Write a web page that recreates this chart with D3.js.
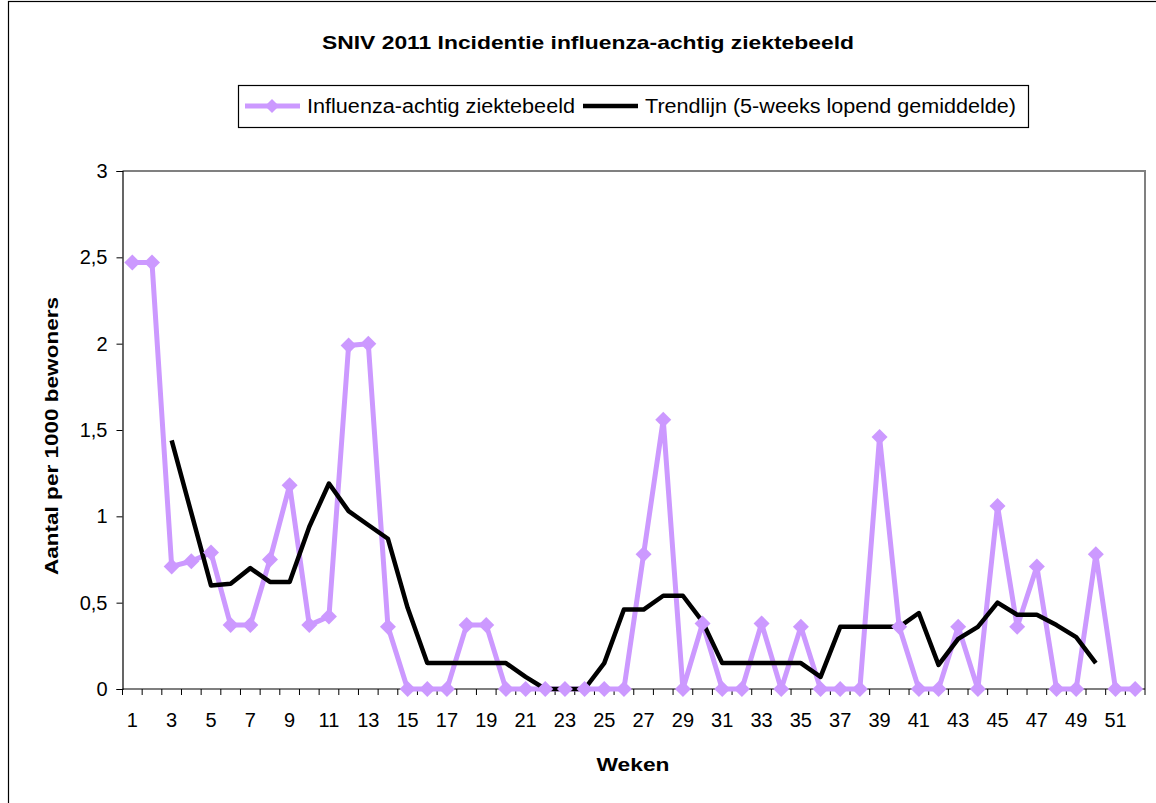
<!DOCTYPE html>
<html>
<head>
<meta charset="utf-8">
<script src="https://cdn.jsdelivr.net/npm/d3@7"></script>
<style>
  html, body { margin: 0; padding: 0; background: #fff; }
  svg { display: block; }
  text { font-family: "Liberation Sans", Arial, sans-serif; fill: #000; }
</style>
</head>
<body>
<svg id="chart" width="1156" height="803"></svg>
<script>
// ---- Data ----
const weeks = d3.range(1, 53);
const influenza = [2.47, 2.47, 0.71, 0.74, 0.79, 0.37, 0.37, 0.75, 1.18, 0.37,
                   0.42, 1.99, 2.0, 0.36, 0, 0, 0, 0.37, 0.37, 0,
                   0, 0, 0, 0, 0, 0, 0.78, 1.56, 0, 0.38,
                   0, 0, 0.38, 0, 0.36, 0, 0, 0, 1.46, 0.36,
                   0, 0, 0.36, 0, 1.06, 0.36, 0.71, 0, 0, 0.78,
                   0, 0];
// trend line (5-week moving average), weeks 3..50
const trendWeeks = d3.range(3, 51);
const trend = [1.44, 1.02, 0.60, 0.61, 0.70, 0.62, 0.62, 0.94, 1.19, 1.03,
               0.95, 0.87, 0.47, 0.15, 0.15, 0.15, 0.15, 0.15, 0.07, 0,
               0, 0, 0.15, 0.46, 0.46, 0.54, 0.54, 0.39, 0.15, 0.15,
               0.15, 0.15, 0.15, 0.07, 0.36, 0.36, 0.36, 0.36, 0.44, 0.14,
               0.29, 0.36, 0.50, 0.43, 0.43, 0.37, 0.30, 0.15];
const yTicks = [0, 0.5, 1, 1.5, 2, 2.5, 3];
const xLabelWeeks = d3.range(1, 53, 2);

const titleText = "SNIV 2011 Incidentie influenza-achtig ziektebeeld";
const legendLabels = ["Influenza-achtig ziektebeeld", "Trendlijn (5-weeks lopend gemiddelde)"];
const xTitle = "Weken";
const yTitle = "Aantal per 1000 bewoners";

// ---- Layout ----
const svg = d3.select("#chart");
const plot = { left: 122.5, top: 171, right: 1145, bottom: 689 };
const purple = "#CC99FF";
const tickFont = 20;

// outer chart border
svg.append("rect").attr("x", 8.5).attr("y", 1.5).attr("width", 1160).attr("height", 820)
  .attr("fill", "#fff").attr("stroke", "#000").attr("stroke-width", 1.2);

const x = d3.scaleBand().domain(weeks).range([plot.left, plot.right]).padding(0);
const y = d3.scaleLinear().domain([0, 3]).range([plot.bottom, plot.top]);
const cx = w => x(w) + x.bandwidth() / 2;

// plot area border (gray top & right)
svg.append("path")
  .attr("d", `M${plot.left},${plot.top}H${plot.right}V${plot.bottom}`)
  .attr("fill", "none").attr("stroke", "#808080").attr("stroke-width", 2);

// Y axis
const yAxis = d3.axisLeft(y).tickValues(yTicks).tickSize(6).tickPadding(9)
  .tickFormat(d => String(d).replace(".", ","));
const gy = svg.append("g").attr("transform", `translate(${plot.left},0)`).call(yAxis);
gy.select(".domain").attr("stroke", "#000").attr("stroke-width", 1.2);
gy.selectAll(".tick line").attr("stroke", "#000");
gy.selectAll(".tick text").attr("font-size", tickFont).attr("font-family", "Liberation Sans, Arial, sans-serif").attr("fill", "#000");

// X axis: line + ticks at band boundaries
const gx = svg.append("g").attr("transform", `translate(0,${plot.bottom})`);
gx.append("line").attr("x1", plot.left).attr("x2", plot.right).attr("y1", 0).attr("y2", 0)
  .attr("stroke", "#000").attr("stroke-width", 1.2);
gx.selectAll("line.tk").data(weeks.concat([53])).enter().append("line").attr("class", "tk")
  .attr("x1", w => w === 53 ? plot.right : x(w)).attr("x2", w => w === 53 ? plot.right : x(w))
  .attr("y1", 0).attr("y2", 6).attr("stroke", "#000").attr("stroke-width", 1);
gx.selectAll("text.lbl").data(xLabelWeeks).enter().append("text").attr("class", "lbl")
  .attr("x", cx).attr("y", 38).attr("text-anchor", "middle").attr("font-size", tickFont).text(d => d);

// lines
const line = d3.line().x(d => cx(d[0])).y(d => y(d[1]));
const infData = weeks.map((w, i) => [w, influenza[i]]);
const trData = trendWeeks.map((w, i) => [w, trend[i]]);

svg.append("path").datum(infData).attr("d", line).attr("fill", "none")
  .attr("stroke", purple).attr("stroke-width", 5).attr("stroke-linejoin", "round");
svg.append("path").datum(trData).attr("d", line).attr("fill", "none")
  .attr("stroke", "#000").attr("stroke-width", 4.5).attr("stroke-linejoin", "round");

// diamond markers on top
const diamond = (px, py, r) => `M${px},${py - r}L${px + r},${py}L${px},${py + r}L${px - r},${py}Z`;
svg.selectAll("path.mk").data(infData).enter().append("path").attr("class", "mk")
  .attr("d", d => diamond(cx(d[0]), y(d[1]), 8)).attr("fill", purple);

// title
svg.append("text").attr("x", 588).attr("y", 49).attr("text-anchor", "middle")
  .attr("font-size", 18.5).attr("font-weight", "bold")
  .attr("textLength", 532).attr("lengthAdjust", "spacingAndGlyphs").text(titleText);

// legend
const lg = svg.append("g");
lg.append("rect").attr("x", 238.5).attr("y", 85.5).attr("width", 790).attr("height", 42)
  .attr("fill", "#fff").attr("stroke", "#000").attr("stroke-width", 1.2);
lg.append("line").attr("x1", 245).attr("x2", 300).attr("y1", 106).attr("y2", 106)
  .attr("stroke", purple).attr("stroke-width", 5);
lg.append("path").attr("d", diamond(272, 106, 7)).attr("fill", purple);
lg.append("text").attr("x", 307).attr("y", 113).attr("font-size", 20)
  .attr("textLength", 268).attr("lengthAdjust", "spacingAndGlyphs").text(legendLabels[0]);
lg.append("line").attr("x1", 583).attr("x2", 638).attr("y1", 106).attr("y2", 106)
  .attr("stroke", "#000").attr("stroke-width", 4.5);
lg.append("text").attr("x", 645).attr("y", 113).attr("font-size", 20)
  .attr("textLength", 371).attr("lengthAdjust", "spacingAndGlyphs").text(legendLabels[1]);

// axis titles
svg.append("text").attr("x", 633).attr("y", 771).attr("text-anchor", "middle")
  .attr("font-size", 19).attr("font-weight", "bold")
  .attr("textLength", 73).attr("lengthAdjust", "spacingAndGlyphs").text(xTitle);
svg.append("text").attr("transform", "translate(58,436) rotate(-90)").attr("text-anchor", "middle")
  .attr("font-size", 19).attr("font-weight", "bold")
  .attr("textLength", 278).attr("lengthAdjust", "spacingAndGlyphs").text(yTitle);
</script>
</body>
</html>
